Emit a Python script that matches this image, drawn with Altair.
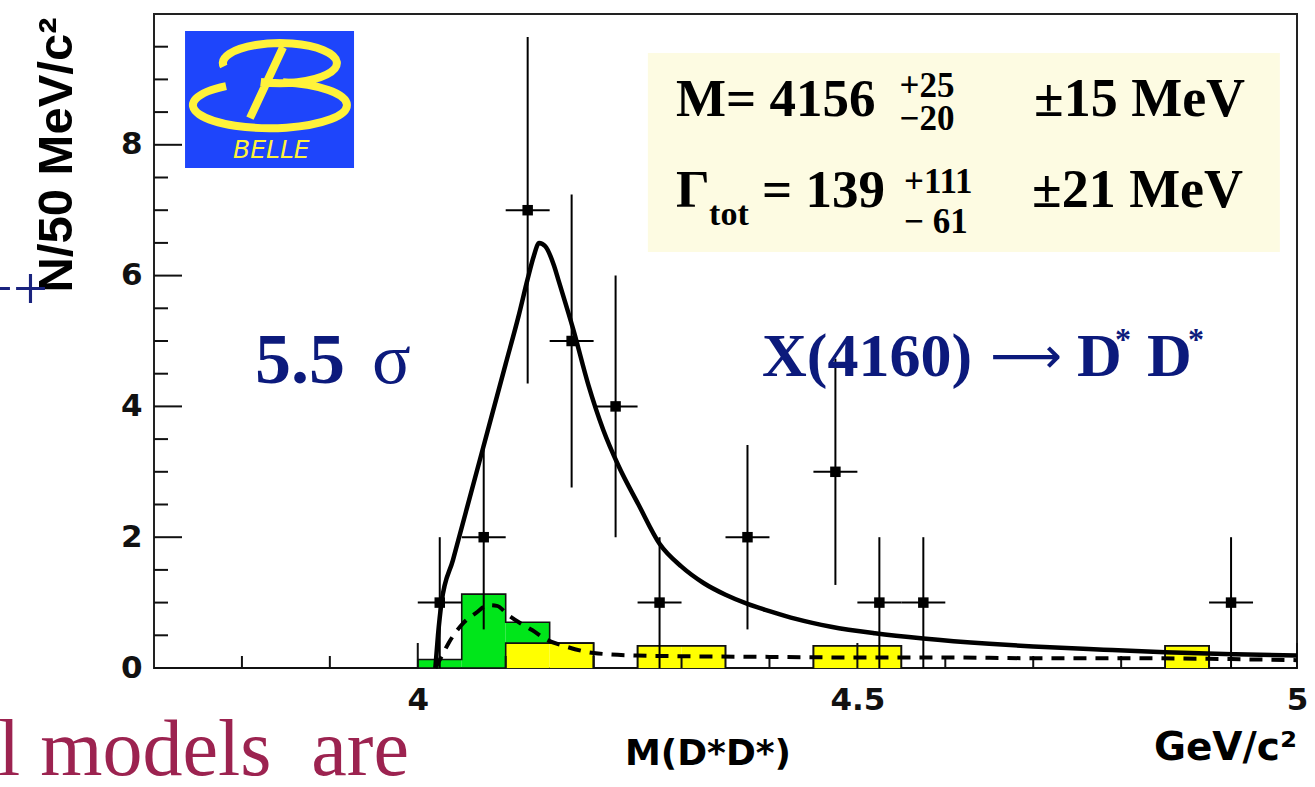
import altair as alt
import pandas as pd

# ---- measured spectrum: 50 MeV bins, centres, counts and errors ----
bin_centres = [4.025, 4.075, 4.125, 4.175, 4.225, 4.275, 4.375, 4.475, 4.525, 4.575, 4.925]
counts = [1, 2, 7, 5, 4, 1, 2, 3, 1, 1, 1]
count_errs = [1.0, 1.41, 2.65, 2.24, 2.0, 1.0, 1.41, 1.73, 1.0, 1.0, 1.0]
half_bin = 0.025
bin_width = 0.05

# ---- background histograms (left bin edges, contents) ----
yellow_edges = [4.10, 4.15, 4.25, 4.30, 4.45, 4.50, 4.85]
yellow_vals = [0.38, 0.38, 0.34, 0.34, 0.34, 0.34, 0.34]
green_edges = [4.00, 4.05, 4.10]
green_vals = [0.13, 1.13, 0.32]

# ---- fit curves ----
fit_x = [4.020, 4.023, 4.027, 4.040, 4.055, 4.070, 4.085, 4.100, 4.115, 4.125, 4.132,
         4.138, 4.145, 4.155, 4.160, 4.177, 4.194, 4.211, 4.228, 4.251, 4.275, 4.300,
         4.325, 4.350, 4.375, 4.400, 4.430, 4.470, 4.520, 4.575, 4.650, 4.700, 4.780,
         4.850, 4.930, 5.000]
fit_y = [0.0, 0.5, 1.0, 1.65, 2.4, 3.15, 3.9, 4.65, 5.4, 5.95, 6.3,
         6.5, 6.45, 6.15, 5.93, 5.17, 4.33, 3.64, 3.1, 2.5, 1.9, 1.55,
         1.3, 1.12, 0.98, 0.87, 0.75, 0.63, 0.53, 0.45, 0.37, 0.33, 0.28,
         0.24, 0.21, 0.19]
bkg_x = [4.020, 4.028, 4.035, 4.045, 4.052, 4.066, 4.080, 4.090, 4.103, 4.115, 4.130,
         4.147, 4.168, 4.200, 4.250, 4.300, 4.400, 4.500, 4.600, 4.700, 4.800, 4.900, 5.000]
bkg_y = [0.0, 0.2, 0.38, 0.58, 0.69, 0.84, 0.96, 0.95, 0.81, 0.70, 0.58,
         0.43, 0.33, 0.23, 0.19, 0.18, 0.17, 0.16, 0.16, 0.15, 0.15, 0.14, 0.12]

# ---- axis ticks ----
y_major = [0, 2, 4, 6, 8]
y_minor = [0.5, 1, 1.5, 2.5, 3, 3.5, 4.5, 5, 5.5, 6.5, 7, 7.5, 8.5, 9, 9.5]
x_major = [4.0, 4.5, 5.0]
x_minor = [3.8, 3.9, 4.1, 4.2, 4.3, 4.4, 4.6, 4.7, 4.8, 4.9]

X_DOMAIN = [3.7, 5.0]
Y_DOMAIN = [0, 10]
W, H = 1143, 654

xs = alt.Scale(domain=X_DOMAIN, nice=False, zero=False)
ys = alt.Scale(domain=Y_DOMAIN, nice=False, zero=False)

NAVY = "#0c1a7c"
SERIF = "Liberation Serif"
SANS_W = "DejaVu Sans"

# ---- tables ----
pts = pd.DataFrame({"x": bin_centres, "n": counts, "e": count_errs})
pts["lo"] = pts["n"] - pts["e"]
pts["hi"] = pts["n"] + pts["e"]
pts["xl"] = pts["x"] - half_bin
pts["xr"] = pts["x"] + half_bin

edges = [round(X_DOMAIN[0] + bin_width * i, 2) for i in range(26)]
yellow_map = dict(zip(yellow_edges, yellow_vals))
green_map = dict(zip(green_edges, green_vals))
hist = pd.DataFrame({"l": edges})
hist["r"] = hist["l"] + bin_width
hist["yel"] = [yellow_map.get(e, 0.0) for e in edges]
hist["grn"] = [green_map.get(e, 0.0) for e in edges]
hist["tot"] = hist["yel"] + hist["grn"]
hist["zero"] = 0.0

step = pd.concat([hist[["l", "yel", "tot"]],
                  pd.DataFrame({"l": [X_DOMAIN[1]], "yel": [0.0], "tot": [0.0]})],
                 ignore_index=True)

fit = pd.DataFrame({"x": fit_x, "y": fit_y})
bkg = pd.DataFrame({"x": bkg_x, "y": bkg_y})

x_axis = alt.Axis(values=x_major, format="~g", grid=False, domain=False, ticks=False,
                  tickSize=0, labelPadding=17, labelFlush=False,
                  labelFont=SANS_W, labelFontWeight="bold", labelFontSize=31,
                  labelColor="#111", title=None)
y_axis = alt.Axis(values=y_major, format="d", grid=False, domain=False, ticks=False,
                  tickSize=0, labelPadding=12, labelFlush=False,
                  labelFont=SANS_W, labelFontWeight="bold", labelFontSize=31,
                  labelColor="#111", title=None)

# histogram fills
yellow_fill = alt.Chart(hist[hist["yel"] > 0]).mark_rect(color="#ffff00").encode(
    x=alt.X("l:Q", scale=xs, axis=x_axis), x2="r:Q",
    y=alt.Y("zero:Q", scale=ys, axis=y_axis), y2="yel:Q")
green_fill = alt.Chart(hist[hist["grn"] > 0]).mark_rect(color="#00e61a").encode(
    x=alt.X("l:Q", scale=xs), x2="r:Q",
    y=alt.Y("yel:Q", scale=ys), y2="tot:Q")

# histogram outlines
yellow_line = alt.Chart(step).mark_line(interpolate="step-after", color="#111",
                                        strokeWidth=1.6).encode(
    x=alt.X("l:Q", scale=xs), y=alt.Y("yel:Q", scale=ys))
total_line = alt.Chart(step).mark_line(interpolate="step-after", color="#111",
                                       strokeWidth=1.6).encode(
    x=alt.X("l:Q", scale=xs), y=alt.Y("tot:Q", scale=ys))

# inward ticks
def y_ticks(vals, length):
    return alt.Chart(pd.DataFrame({"v": vals})).mark_rule(color="#111", strokeWidth=2).encode(
        y=alt.Y("v:Q", scale=ys), x=alt.value(0), x2=alt.value(length))

def x_ticks(vals, length):
    return alt.Chart(pd.DataFrame({"v": vals})).mark_rule(color="#111", strokeWidth=2).encode(
        x=alt.X("v:Q", scale=xs), y=alt.value(H), y2=alt.value(H - length))

# curves
bkg_curve = alt.Chart(bkg).mark_line(color="#000", strokeWidth=4, strokeDash=[13, 9],
                                     interpolate="monotone").encode(
    x=alt.X("x:Q", scale=xs), y=alt.Y("y:Q", scale=ys))
fit_curve = alt.Chart(fit).mark_line(color="#000", strokeWidth=4.5,
                                     interpolate="monotone").encode(
    x=alt.X("x:Q", scale=xs), y=alt.Y("y:Q", scale=ys))

# data points with error bars
vbars = alt.Chart(pts).mark_rule(color="#000", strokeWidth=2).encode(
    x=alt.X("x:Q", scale=xs), y=alt.Y("lo:Q", scale=ys), y2="hi:Q")
hbars = alt.Chart(pts).mark_rule(color="#000", strokeWidth=2).encode(
    x=alt.X("xl:Q", scale=xs), x2="xr:Q", y=alt.Y("n:Q", scale=ys))
markers = alt.Chart(pts).mark_square(color="#000", size=110, opacity=1).encode(
    x=alt.X("x:Q", scale=xs), y=alt.Y("n:Q", scale=ys))

# result box and logo panel
box = alt.Chart(pd.DataFrame({"x1": [4.2617], "x2": [4.9805], "y1": [6.361], "y2": [9.404]})
                ).mark_rect(color="#fdfbe2").encode(
    x=alt.X("x1:Q", scale=xs), x2="x2:Q", y=alt.Y("y1:Q", scale=ys), y2="y2:Q")
logo_bg = alt.Chart(pd.DataFrame({"x1": [3.7353], "x2": [3.9275], "y1": [7.645], "y2": [9.740]})
                    ).mark_rect(color="#1e45fb").encode(
    x=alt.X("x1:Q", scale=xs), x2="x2:Q", y=alt.Y("y1:Q", scale=ys), y2="y2:Q")
B_PATH = ("M -0.60 -0.24 A 0.74 0.26 0 1 1 -0.12 -0.04 "
          "M -0.57 0.014 A 1.0 0.30 0 1 0 0.17 -0.035 "
          "M 0.17 -0.49 L -0.26 0.43")
logo_b = alt.Chart(pd.DataFrame({"x": [3.8319], "y": [8.914]})).mark_point(
    shape=B_PATH, filled=False, size=23716, strokeWidth=8, color="#fff23a", opacity=1).encode(
    x=alt.X("x:Q", scale=xs), y=alt.Y("y:Q", scale=ys))


def label(text, x, y, size, font=SERIF, weight="bold", color="#000", align="left",
          baseline="alphabetic", style="normal"):
    return alt.Chart(pd.DataFrame({"x": [x], "y": [y], "t": [text]})).mark_text(
        font=font, fontSize=size, fontWeight=weight, fontStyle=style, color=color,
        align=align, baseline=baseline).encode(
        x=alt.X("x:Q", scale=xs), y=alt.Y("y:Q", scale=ys), text="t:N")


def px_label(text, x, y, size, font=SERIF, weight="normal", color="#000", align="left",
             baseline="alphabetic", angle=0):
    return alt.Chart(pd.DataFrame({"t": [text]})).mark_text(
        font=font, fontSize=size, fontWeight=weight, color=color, align=align,
        baseline=baseline, angle=angle).encode(
        x=alt.value(x), y=alt.value(y), text="t:N")


texts = [
    label("BELLE", 3.7899, 7.798, 25, font=SANS_W, weight="normal", color="#fff23a",
          style="italic"),
    label("5.5", 3.8149, 4.358, 72, color=NAVY),
    label("σ", 3.948, 4.358, 72, weight="normal", color=NAVY),
    label("X(4160)", 4.3915, 4.465, 62, color=NAVY),
    label("⟶", 4.6918, 4.74, 50, font=SANS_W, weight="normal", color=NAVY, align="center",
          baseline="middle"),
    label("D", 4.7498, 4.465, 62, color=NAVY),
    label("*", 4.7930, 4.86, 32, color=NAVY),
    label("D", 4.8294, 4.465, 62, color=NAVY),
    label("*", 4.8760, 4.86, 32, color=NAVY),
    label("M= 4156", 4.2937, 8.440, 53),
    label("+25", 4.5480, 8.731, 35),
    label("−20", 4.5480, 8.226, 35),
    label("±15 MeV", 4.7009, 8.440, 54),
    label("Γ", 4.2937, 7.049, 53),
    label("tot", 4.3313, 6.774, 34),
    label("= 139", 4.3915, 7.049, 53),
    label("+111", 4.5530, 7.263, 35),
    label("− 61", 4.5530, 6.651, 35),
    label("±21 MeV", 4.6986, 7.049, 54),
    px_label("N/50 MeV/c²", -97, 141, 49, font="Liberation Sans", weight="bold",
             align="center", baseline="middle", angle=270),
    px_label("M(D*D*)", 554, 751, 36, font=SANS_W, weight="bold", align="center"),
    px_label("GeV/c²", 1143, 746, 39, font=SANS_W, weight="bold", align="right"),
    px_label("++", -106, 295, 62, color="#1a237e", align="right"),
    px_label("l models\u00a0 are", -156, 761, 80, color="#9c2350"),
]

chart = alt.layer(
    yellow_fill, green_fill, yellow_line, total_line,
    y_ticks(y_minor, 14), y_ticks(y_major, 28), x_ticks(x_minor, 12), x_ticks(x_major, 25),
    bkg_curve, fit_curve, vbars, hbars, markers,
    box, logo_bg, logo_b, *texts,
).properties(
    width=W, height=H,
    autosize=alt.AutoSizeParams(type="none"),
    padding={"left": 154, "top": 14, "right": 18, "bottom": 119},
    background="white",
).configure_view(stroke="#222", strokeWidth=2)

chart.save("out.html", embed_options={"renderer": "svg", "actions": False})
